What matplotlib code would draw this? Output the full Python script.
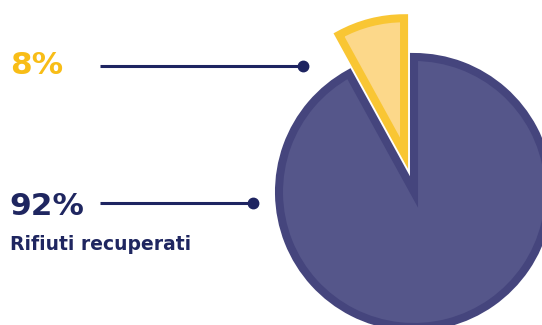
import matplotlib.pyplot as plt

# data
shares = [8, 92]
share_labels = ["8%", "92%"]
caption = "Rifiuti recuperati"

# colours
fill_colors = ["#FCD88A", "#55568A"]
edge_colors = ["#F9C633", "#45457D"]
label_colors = ["#F8BD17", "#1F2660"]
navy = "#1E2461"

W, H = 542, 325


def py(y):
    # pixel row (from top) -> data y
    return H - y


fig = plt.figure(figsize=(W / 100, H / 100), dpi=100)
ax = fig.add_axes([0, 0, 1, 1])

# the pie (explode is in data units here, i.e. pixels)
wedges, _ = ax.pie(shares, startangle=90, counterclock=True,
                   colors=fill_colors, explode=[40, 0],
                   center=(414, py(192)), radius=135,
                   wedgeprops=dict(linewidth=5.8))
for w, ec in zip(wedges, edge_colors):
    w.set_edgecolor(ec)
    w.set_joinstyle("miter")

# labels with leader lines
font = "DejaVu Sans"
ax.text(10, py(74), share_labels[0], color=label_colors[0], fontsize=22.5,
        fontweight="bold", family=font, ha="left", va="baseline")
ax.plot([100, 303], [py(66), py(66)], color=navy, lw=2.2, solid_capstyle="butt")
ax.plot([303], [py(66)], "o", color=navy, ms=7.5)

ax.text(9, py(215), share_labels[1], color=label_colors[1], fontsize=22.5,
        fontweight="bold", family=font, ha="left", va="baseline")
ax.plot([100, 253], [py(203), py(203)], color=navy, lw=2.2, solid_capstyle="butt")
ax.plot([253], [py(203)], "o", color=navy, ms=7.5)

ax.text(10, py(250), caption, color=label_colors[1], fontsize=13.5,
        fontweight="bold", family=font, ha="left", va="baseline")

ax.set_xlim(0, W)
ax.set_ylim(0, H)
ax.set_aspect("equal")
ax.axis("off")

fig.savefig("out.png", dpi=100, facecolor="white")
